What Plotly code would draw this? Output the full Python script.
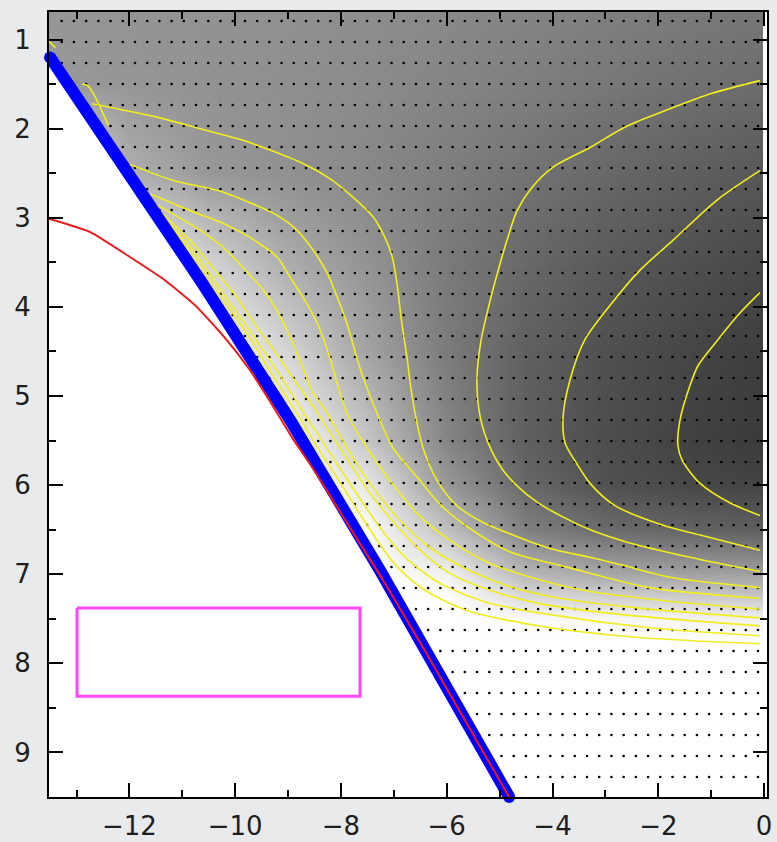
import numpy as np
import plotly.graph_objects as go

# ---------------- data ----------------
x_range = [-13.52, 0.055]
y_range = [9.50, 0.69]
x_ticks = [-12, -10, -8, -6, -4, -2, 0]
x_minor = [-13, -11, -9, -7, -5, -3, -1]
y_ticks = [1, 2, 3, 4, 5, 6, 7, 8, 9]
y_minor = [1.5, 2.5, 3.5, 4.5, 5.5, 6.5, 7.5, 8.5]

# grey-level field (0 = black, 255 = white)
hm_x = [-13.5, -12.0, -10.5, -9.0, -7.5, -6.0, -4.5, -3.0, -1.5, 0.0]
hm_y = [0.7, 1.5, 2.5, 3.5, 4.5, 5.5, 6.0, 6.5, 7.0, 7.25, 7.5, 7.75, 9.5]
hm_z = [
    [150, 148, 146, 144, 141, 137, 132, 127, 122, 118],
    [152, 150, 146, 143, 139, 133, 127, 120, 113, 108],
    [255, 175, 152, 144, 136, 126, 115, 104, 95, 88],
    [255, 255, 210, 172, 147, 122, 104, 90, 80, 72],
    [255, 255, 250, 212, 163, 123, 96, 80, 70, 62],
    [255, 255, 255, 248, 198, 133, 95, 77, 66, 58],
    [255, 255, 255, 255, 232, 152, 104, 82, 72, 68],
    [255, 255, 255, 255, 252, 192, 128, 108, 100, 95],
    [255, 255, 255, 255, 255, 242, 183, 168, 162, 160],
    [255, 255, 255, 255, 255, 255, 218, 208, 204, 200],
    [255, 255, 255, 255, 255, 255, 250, 248, 245, 242],
    [255] * 10,
    [255] * 10,
]
hm_right_edge = -0.02   # field ends just short of the right axis

# model grid nodes
grid_x = np.linspace(-13.28, -0.115, 58)
grid_y = np.linspace(0.791, 9.276, 37)

# boundary (blue) line
edge_x = [-13.50, -10.66, -8.96, -7.26, -4.82]
edge_y = [1.20, 3.70, 5.27, 6.96, 9.50]

# red curve
red_x = [-13.52, -12.74, -11.99, -11.33, -10.76, -10.19, -9.72, -9.30, -8.92, -8.51, -8.09, -7.68, -7.20, -6.39, -4.82]
red_y = [3.01, 3.16, 3.44, 3.70, 3.98, 4.35, 4.71, 5.10, 5.47, 5.83, 6.23, 6.62, 7.07, 7.88, 9.50]

# contour lines (yellow)
C_x = [-0.08, -0.49, -0.93, -1.25, -1.40, -1.59, -1.63, -1.55, -1.21, -0.64, -0.08]
C_y = [3.84, 4.09, 4.41, 4.66, 4.88, 5.27, 5.55, 5.72, 5.98, 6.20, 6.34]
B_x = [-0.08, -0.89, -1.72, -2.35, -2.91, -3.39, -3.67, -3.80, -3.76, -3.54, -3.29, -2.82, -1.91, -1.21, -0.08]
B_y = [2.47, 2.80, 3.25, 3.59, 3.98, 4.37, 4.82, 5.24, 5.53, 5.76, 5.98, 6.23, 6.45, 6.56, 6.73]
A_x = [-0.08, -0.97, -1.84, -2.59, -3.29, -3.99, -4.39, -4.67, -4.86, -4.99, -5.18, -5.35, -5.43, -5.39, -5.29,
       -5.14, -4.94, -4.65, -4.27, -3.76, -3.25, -2.59, -1.40, -0.08]
A_y = [1.46, 1.60, 1.79, 1.97, 2.21, 2.43, 2.66, 2.92, 3.25, 3.51, 3.93, 4.37, 4.82, 5.16, 5.41,
       5.63, 5.83, 6.02, 6.20, 6.37, 6.51, 6.64, 6.81, 6.97]
L1_x = [-12.71, -11.48, -10.66, -9.85, -9.34, -8.72, -8.21, -7.77, -7.39, -7.17, -7.03, -6.94, -6.85, -6.75, -6.69,
        -6.60, -6.45, -6.18, -5.81, -5.31, -4.75, -4.05, -3.29, -2.67, -1.72, -0.08]
L1_y = [1.72, 1.87, 2.00, 2.13, 2.24, 2.39, 2.56, 2.77, 2.99, 3.22, 3.44, 3.74, 4.18, 4.57, 4.86,
        5.19, 5.58, 5.95, 6.23, 6.42, 6.56, 6.71, 6.81, 6.90, 7.04, 7.15]
L2_x = [-11.99, -11.17, -10.34, -9.72, -9.21, -8.83, -8.53, -8.26, -8.07, -7.89, -7.70, -7.54, -7.32, -7.02, -6.56,
        -6.07, -5.43, -4.80, -3.73, -2.16, -0.08]
L2_y = [2.40, 2.58, 2.69, 2.83, 2.97, 3.14, 3.36, 3.62, 3.89, 4.18, 4.57, 4.86, 5.19, 5.58, 5.91,
        6.25, 6.54, 6.75, 6.92, 7.15, 7.27]
L3_x = [-11.61, -10.85, -10.23, -9.72, -9.21, -8.96, -8.72, -8.45, -8.21, -8.07, -7.89, -7.51, -7.07, -6.56, -5.94,
        -5.18, -4.43, -3.42, -1.84, -0.08]
L3_y = [2.73, 2.92, 3.06, 3.22, 3.44, 3.67, 3.89, 4.18, 4.57, 4.86, 5.19, 5.58, 5.95, 6.32, 6.62,
        6.88, 7.03, 7.18, 7.30, 7.39]
L4_x = [-11.46, -10.66, -10.23, -9.85, -9.47, -9.21, -8.96, -8.72, -8.55, -8.26, -7.89, -7.45, -6.94, -6.32, -5.56,
        -4.75, -3.86, -2.35, -0.08]
L4_y = [2.86, 3.14, 3.33, 3.56, 3.81, 4.04, 4.34, 4.68, 4.94, 5.19, 5.58, 5.98, 6.36, 6.70, 6.96,
        7.15, 7.27, 7.38, 7.49]
L5_x = [-11.38, -10.81, -10.38, -9.96, -9.61, -9.26, -8.92, -8.60, -8.26, -7.89, -7.49, -7.03, -6.54, -5.94, -5.18,
        -4.24, -2.72, -0.08]
L5_y = [2.95, 3.28, 3.59, 3.90, 4.21, 4.49, 4.79, 5.05, 5.36, 5.70, 6.06, 6.40, 6.71, 6.99, 7.18,
        7.33, 7.45, 7.58]
L6_x = [-11.33, -10.80, -10.40, -10.02, -9.66, -9.32, -9.00, -8.68, -8.36, -8.00, -7.62, -7.22, -6.77, -6.13, -5.22,
        -3.86, -2.16, -0.08]
L6_y = [3.01, 3.36, 3.70, 4.02, 4.32, 4.62, 4.91, 5.21, 5.50, 5.83, 6.17, 6.51, 6.82, 7.10, 7.32,
        7.47, 7.60, 7.69]
L7_x = [-11.27, -10.81, -10.44, -10.06, -9.70, -9.38, -9.06, -8.74, -8.43, -8.07, -7.71, -7.34, -6.96, -6.41, -5.60,
        -4.24, -2.35, -0.08]
L7_y = [3.07, 3.41, 3.74, 4.06, 4.37, 4.68, 4.98, 5.28, 5.59, 5.92, 6.26, 6.60, 6.90, 7.18, 7.41,
        7.58, 7.71, 7.78]
F0_x = [-13.54, -13.40]
F0_y = [1.01, 1.09]
F1_x = [-12.89, -12.78, -12.40]
F1_y = [1.50, 1.52, 1.96]

contours = [(C_x, C_y), (B_x, B_y), (A_x, A_y), (L1_x, L1_y), (L2_x, L2_y), (L3_x, L3_y),
            (L4_x, L4_y), (L5_x, L5_y), (L6_x, L6_y), (L7_x, L7_y), (F0_x, F0_y), (F1_x, F1_y)]

# magenta box
box_x = [-12.99, -7.64]
box_y = [7.38, 8.37]

# ---------------- figure ----------------
fig = go.Figure()

fig.add_trace(go.Heatmap(
    x=hm_x, y=hm_y, z=hm_z, zmin=0, zmax=255, zsmooth="best",
    colorscale=[[0, "rgb(0,0,0)"], [1, "rgb(255,255,255)"]],
    showscale=False, hoverinfo="skip"))

# thin blank strip between the field and the right axis
fig.add_trace(go.Scatter(
    x=[hm_right_edge, x_range[1] + 1, x_range[1] + 1, hm_right_edge, hm_right_edge],
    y=[y_range[1] - 1, y_range[1] - 1, y_range[0] + 1, y_range[0] + 1, y_range[1] - 1],
    mode="lines", fill="toself", fillcolor="white", line=dict(width=0, color="white"),
    hoverinfo="skip", showlegend=False))

# white region outside the model domain (left of the boundary line)
mask_x = edge_x + [edge_x[-1], -14.5, -14.5, edge_x[0]]
mask_y = edge_y + [10.0, 10.0, edge_y[0], edge_y[0]]
fig.add_trace(go.Scatter(x=mask_x, y=mask_y, mode="lines", fill="toself",
                         fillcolor="white", line=dict(width=0, color="white"),
                         hoverinfo="skip", showlegend=False))

# grid nodes inside the domain
gx, gy = np.meshgrid(grid_x, grid_y)
gx = gx.ravel()
gy = gy.ravel()
limit = np.interp(gy, edge_y, edge_x, left=-99, right=edge_x[-1])
keep = gx > limit
fig.add_trace(go.Scatter(x=gx[keep], y=gy[keep], mode="markers",
                         marker=dict(size=2.6, color="black"),
                         hoverinfo="skip", showlegend=False))

for cx, cy in contours:
    fig.add_trace(go.Scatter(x=cx, y=cy, mode="lines",
                             line=dict(color="rgb(240,238,30)", width=1.6, shape="spline", smoothing=0.8),
                             hoverinfo="skip", showlegend=False))

fig.add_trace(go.Scatter(x=edge_x, y=edge_y, mode="lines",
                         line=dict(color="rgb(0,0,255)", width=12),
                         hoverinfo="skip", showlegend=False))
fig.add_trace(go.Scatter(x=[edge_x[0], edge_x[-1]], y=[edge_y[0], edge_y[-1]], mode="markers",
                         marker=dict(size=12, color="rgb(0,0,255)"), cliponaxis=False,
                         hoverinfo="skip", showlegend=False))

fig.add_trace(go.Scatter(x=red_x, y=red_y, mode="lines",
                         line=dict(color="rgb(235,25,25)", width=2, shape="spline", smoothing=0.5),
                         hoverinfo="skip", showlegend=False))

fig.add_trace(go.Scatter(x=[box_x[0], box_x[1], box_x[1], box_x[0], box_x[0]],
                         y=[box_y[0], box_y[0], box_y[1], box_y[1], box_y[0]],
                         mode="lines", line=dict(color="rgb(255,70,255)", width=3),
                         hoverinfo="skip", showlegend=False))

axis_common = dict(
    ticks="inside", tickwidth=2, tickcolor="black", ticklen=14,
    showline=True, linewidth=2, linecolor="black", mirror="ticks",
    showgrid=False, zeroline=False, layer="above traces", automargin=False,
    tickfont=dict(family="DejaVu Sans, Liberation Sans, sans-serif", size=26, color="#1e1e1e"),
)

fig.update_layout(
    width=777, height=842,
    margin=dict(l=49, r=10, t=12, b=45),
    paper_bgcolor="#e8eaec", plot_bgcolor="white",
    showlegend=False,
    xaxis=dict(range=x_range, tickmode="array", tickvals=x_ticks,
               minor=dict(tickmode="array", tickvals=x_minor, ticks="inside", ticklen=7,
                          tickwidth=2, tickcolor="black"),
               ticklabelstandoff=5, **axis_common),
    yaxis=dict(range=y_range, tickmode="array", tickvals=y_ticks,
               minor=dict(tickmode="array", tickvals=y_minor, ticks="inside", ticklen=7,
                          tickwidth=2, tickcolor="black"),
               ticklabelstandoff=11, **axis_common),
)

fig.write_html("out.html")
